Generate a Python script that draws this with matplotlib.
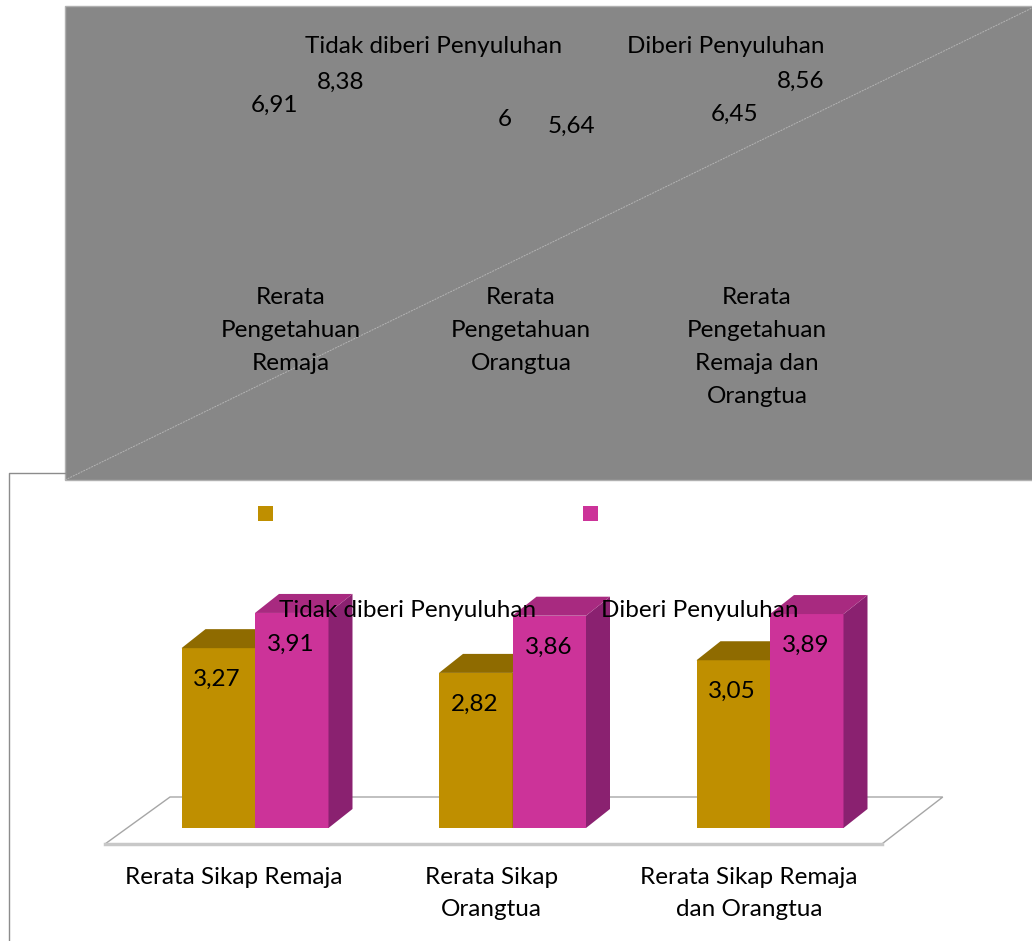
import matplotlib.pyplot as plt
import numpy as np
from matplotlib.patches import Rectangle, Polygon

plt.rcParams['font.family'] = ['Lato', 'DejaVu Sans']

# upper (broken) panel: knowledge scores
knowledge_cats = ["Rerata\nPengetahuan\nRemaja", "Rerata\nPengetahuan\nOrangtua",
                  "Rerata\nPengetahuan\nRemaja dan\nOrangtua"]
knowledge_no = [6.91, 6.0, 6.45]
knowledge_yes = [8.38, 5.64, 8.56]

# lower panel: attitude scores
attitude_cats = ["Rerata Sikap Remaja", "Rerata Sikap\nOrangtua", "Rerata Sikap Remaja\ndan Orangtua"]
attitude_no = [3.27, 2.82, 3.05]
attitude_yes = [3.91, 3.86, 3.89]

series_names = ["Tidak diberi Penyuluhan", "Diberi Penyuluhan"]

GOLD, GOLD_TOP = "#bf8f00", "#8f6b00"
MAG, MAG_SIDE, MAG_TOP = "#cc3399", "#8a2170", "#a82a80"
FS = 17.5


def fmt(v):
    return f"{v:g}".replace(".", ",")


W, H = 1032, 941
fig = plt.figure(figsize=(W / 100, H / 100), dpi=100)

# background layer in pixel coordinates
bg = fig.add_axes([0, 0, 1, 1])
bg.set_xlim(0, W)
bg.set_ylim(H, 0)
bg.axis("off")


def lines_at(px, py, text, step):
    # first baseline at py, one line every `step` pixels
    for k, line in enumerate(text.split("\n")):
        bg.text(px, py + k * step, line, ha="center", va="baseline", fontsize=FS, zorder=6)


bg.add_patch(Rectangle((65, 6), W - 65 + 5, 474, facecolor="#878787", edgecolor="#b0b0b0", lw=1))
bg.plot([65, W], [480, 8], color="#b4b4b4", lw=0.7, ls=(0, (2, 1)))
bg.plot([9, 9, 65], [H, 473, 473], color="#8c8c8c", lw=1)

# legend texts of the upper panel
lines_at(434, 53, series_names[0], 0)
lines_at(726, 53, series_names[1], 0)

# leftover value labels of the upper panel
no_pos = [(275, 112), (505, 126), (735, 121)]
yes_pos = [(341, 89), (571, 133), (801, 88)]
for v, (px, py) in zip(knowledge_no, no_pos):
    lines_at(px, py, fmt(v), 0)
for v, (px, py) in zip(knowledge_yes, yes_pos):
    lines_at(px, py, fmt(v), 0)

for cat, px in zip(knowledge_cats, [291, 521, 757]):
    lines_at(px, 304, cat, 33)

# legend markers without text
bg.add_patch(Rectangle((258, 506), 15, 15, facecolor=GOLD, edgecolor="none"))
bg.add_patch(Rectangle((583, 506), 15, 15, facecolor=MAG, edgecolor="none"))

# bar chart axes: value 0 at pixel row 828, 55 px per unit, 257.5 px per group
ax = fig.add_axes([126.25 / W, (H - 828) / H, 772.5 / W, 275 / H])
ax.set_xlim(-0.5, 2.5)
ax.set_ylim(0, 5)
ax.patch.set_alpha(0)
ax.axis("off")

x = np.arange(len(attitude_cats))
bw = 73.5 / 257.5
dx, dy = 24 / 257.5, 19 / 55

# floor
fy0, fy1 = -16 / 55, 31 / 55
floor = [(-0.5825, fy0), (2.4345, fy0), (2.671, fy1), (-0.33, fy1)]
ax.add_patch(Polygon(floor, closed=True, facecolor="white", edgecolor="#a6a6a6",
                     lw=1, clip_on=False, zorder=1))
ax.plot([-0.5825, 2.4345], [fy0, fy0], color="#c8c8c8", lw=2.5, clip_on=False, zorder=1)


def bar3d(xl, h, front, side, top, z):
    xr = xl + bw
    ax.bar(xl, h, bw, align="edge", color=front, zorder=z, clip_on=False)
    ax.add_patch(Polygon([(xr, 0), (xr + dx, dy), (xr + dx, h + dy), (xr, h)],
                         facecolor=side, edgecolor="none", zorder=z, clip_on=False))
    ax.add_patch(Polygon([(xl, h), (xr, h), (xr + dx, h + dy), (xl + dx, h + dy)],
                         facecolor=top, edgecolor="none", zorder=z, clip_on=False))


for i in x:
    bar3d(i - bw, attitude_no[i], GOLD, GOLD_TOP, GOLD_TOP, 2)
    bar3d(i, attitude_yes[i], MAG, MAG_SIDE, MAG_TOP, 3)
    ax.annotate(fmt(attitude_no[i]), (i - bw / 2, attitude_no[i]), xytext=(-1, -38),
                textcoords="offset pixels", ha="center", va="baseline", fontsize=FS, zorder=5)
    ax.annotate(fmt(attitude_yes[i]), (i + bw / 2, attitude_yes[i]), xytext=(-1, -38),
                textcoords="offset pixels", ha="center", va="baseline", fontsize=FS, zorder=5)
    for k, line in enumerate(attitude_cats[i].split("\n")):
        ax.annotate(line, (i, 0), xytext=(-21, -56 - 32 * k), textcoords="offset pixels",
                    ha="center", va="baseline", fontsize=FS, annotation_clip=False)

# legend texts that landed inside the plot area, drawn over the bars
for name, px in zip(series_names, [408, 700]):
    ax.annotate(name, (px, 617), xycoords=bg.transData, ha="center", va="baseline",
                fontsize=FS, zorder=6, annotation_clip=False)

fig.savefig("out.png", dpi=100)
